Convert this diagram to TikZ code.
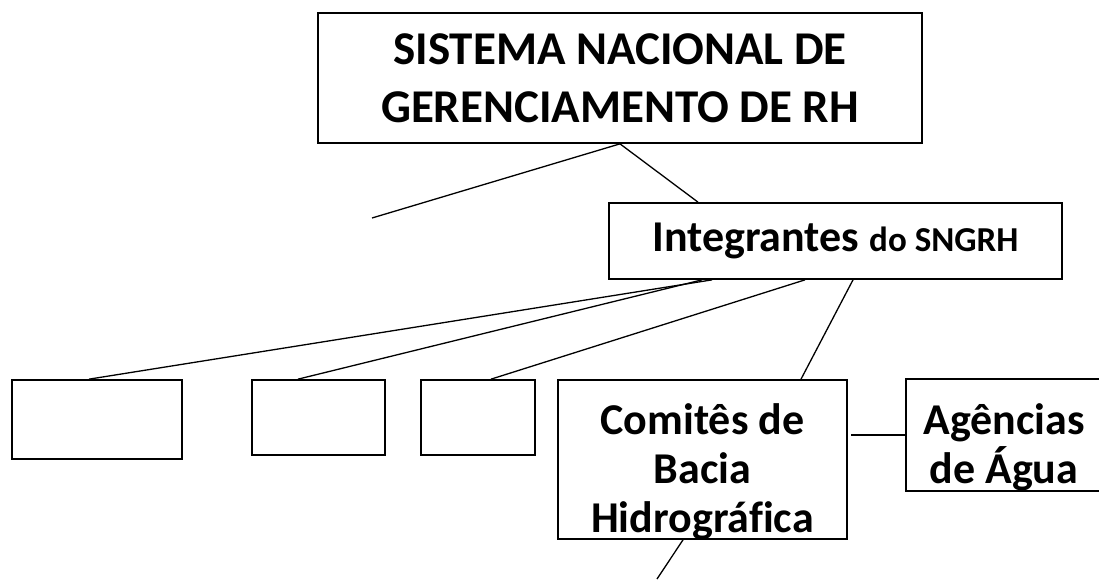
\documentclass[tikz,border=0pt]{standalone}
\usepackage{fontspec}
\setmainfont{Carlito}[Ligatures=NoCommon]
\usetikzlibrary{positioning}

\begin{document}
\begin{tikzpicture}[x=1pt,y=-1pt,line width=1.3pt,
                    every node/.style={font=\bfseries}]
	\tikzstyle{caixa}=[draw=black,rectangle,line width=1.7pt,inner sep=0pt,align=center]
	\tikzstyle{grande}=[font=\fontsize{47}{58}\selectfont\bfseries]
	\tikzstyle{medio}=[font=\fontsize{44}{49}\selectfont\bfseries]
	\tikzstyle{texto}=[medio,align=center,inner sep=0pt,yshift=-12pt]

	\useasboundingbox (0,0) rectangle (1099,579);

	\node[caixa,grande,minimum width=604pt,minimum height=130pt] (sistema) at (620,78)
		{SISTEMA NACIONAL DE\\GERENCIAMENTO DE RH};
	\node[caixa,medio,minimum width=453pt,minimum height=76pt] (integ) at (835.5,241)
		{Integrantes {\fontsize{35}{40}\selectfont do SNGRH}};

	\node[caixa,minimum width=170pt,minimum height=79pt] (vazio1) at (97,419.5) {};
	\node[caixa,minimum width=133pt,minimum height=75pt] (vazio2) at (318.5,417.5) {};
	\node[caixa,minimum width=114pt,minimum height=75pt] (vazio3) at (478,417.5) {};
	\node[caixa,minimum width=289pt,minimum height=159pt,
	      label={[texto]center:{Comitês de\\Bacia\\Hidrográfica}}] (comites) at (702.5,459.5) {};
	\node[caixa,minimum width=196pt,minimum height=112pt,
	      label={[texto]center:{Agências\\de Água}}] (agencias) at (1004,435) {};

	\coordinate (ponta1) at (372,218);
	\coordinate (ponta2) at (657,579);

	\path (sistema.south) edge (ponta1)
	                      edge ([xshift=-137.5pt]integ.north)
	      ([xshift=-123.5pt]integ.south) edge ([xshift=-8pt]vazio1.north)
	      ([xshift=-133.5pt]integ.south) edge ([xshift=-20.5pt]vazio2.north)
	      ([xshift=-30.5pt]integ.south) edge ([xshift=13pt]vazio3.north)
	      ([xshift=17.5pt]integ.south) edge ([xshift=98.5pt]comites.north)
	      ([xshift=-19.5pt]comites.south) edge (ponta2)
	      (agencias.west) edge [shorten >=3pt] (agencias.west -| comites.east);
\end{tikzpicture}
\end{document}
